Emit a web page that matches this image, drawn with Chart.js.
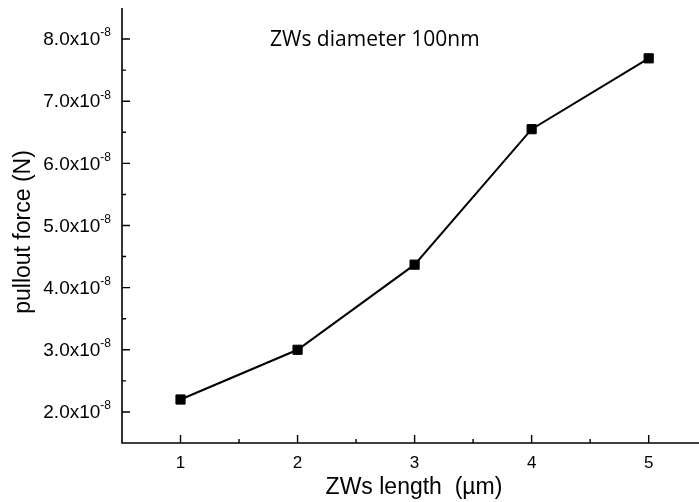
<!DOCTYPE html>
<html>
<head>
<meta charset="utf-8">
<script src="https://cdn.jsdelivr.net/npm/chart.js@4"></script>
<style>
  html, body { margin: 0; padding: 0; background: #fff; overflow: hidden; }
  canvas { display: block; }
</style>
</head>
<body>
<canvas id="grafico" width="699" height="502"></canvas>
<script>
// dados
const comprimentos = [1, 2, 3, 4, 5];
const forcas = [2.2e-8, 3.0e-8, 4.37e-8, 6.55e-8, 7.69e-8];
const xTicks = [1, 2, 3, 4, 5];
const yTicks = [2e-8, 3e-8, 4e-8, 5e-8, 6e-8, 7e-8, 8e-8];
const yMinor = [2.5e-8, 3.5e-8, 4.5e-8, 5.5e-8, 6.5e-8, 7.5e-8];
const xMinor = [1.5, 2.5, 3.5, 4.5];

const fonteEixo = '"Liberation Sans", Arial, sans-serif';

// eixos, ticks para dentro e rotulos com expoente
const eixosPlugin = {
  id: "eixos",
  afterDraw(chart) {
    const { ctx, chartArea: a, scales } = chart;
    const x = scales.x, y = scales.y;
    ctx.save();
    ctx.strokeStyle = "#000";
    ctx.fillStyle = "#000";
    ctx.lineWidth = 1.6;
    ctx.beginPath();
    ctx.moveTo(a.left, a.top);
    ctx.lineTo(a.left, a.bottom);
    ctx.lineTo(a.right, a.bottom);
    ctx.stroke();

    ctx.lineWidth = 1.4;
    ctx.beginPath();
    yTicks.forEach(v => { const p = y.getPixelForValue(v); ctx.moveTo(a.left, p); ctx.lineTo(a.left + 8, p); });
    yMinor.forEach(v => { const p = y.getPixelForValue(v); ctx.moveTo(a.left, p); ctx.lineTo(a.left + 4, p); });
    xTicks.forEach(v => { const p = x.getPixelForValue(v); ctx.moveTo(p, a.bottom); ctx.lineTo(p, a.bottom - 8); });
    xMinor.forEach(v => { const p = x.getPixelForValue(v); ctx.moveTo(p, a.bottom); ctx.lineTo(p, a.bottom - 4); });
    ctx.stroke();

    // rotulos do eixo y
    ctx.textBaseline = "middle";
    yTicks.forEach(v => {
      const p = y.getPixelForValue(v);
      const sup = "-8";
      ctx.font = "12px " + fonteEixo;
      const ws = ctx.measureText(sup).width;
      ctx.textAlign = "right";
      ctx.fillText(sup, a.left - 11, p - 6);
      ctx.font = "19px " + fonteEixo;
      ctx.fillText((v * 1e8).toFixed(1) + "x10", a.left - 11 - ws, p + 1);
    });

    // rotulos do eixo x
    ctx.textAlign = "center";
    ctx.font = "17px " + fonteEixo;
    xTicks.forEach(v => ctx.fillText(String(v), x.getPixelForValue(v), a.bottom + 20));

    // titulos
    ctx.font = "23px " + fonteEixo;
    ctx.fillText("ZWs length  (\u00b5m)", 414, 488);
    ctx.save();
    ctx.translate(24, 232);
    ctx.rotate(-Math.PI / 2);
    ctx.fillText("pullout force (N)", 0, 0);
    ctx.restore();

    ctx.font = '21px "Open Sans", "Noto Sans", sans-serif';
    ctx.textAlign = "left";
    ctx.fillText("ZWs diameter 100nm", 270, 40);
    ctx.restore();
  }
};

const ctx = document.getElementById("grafico").getContext("2d");
new Chart(ctx, {
  type: "line",
  data: {
    datasets: [{
      data: comprimentos.map((c, i) => ({ x: c, y: forcas[i] })),
      borderColor: "#000",
      borderWidth: 2,
      pointStyle: "rect",
      pointRadius: 6.5,
      pointBackgroundColor: "#000",
      pointBorderColor: "#000",
      pointBorderWidth: 1,
      tension: 0,
      clip: false
    }]
  },
  options: {
    responsive: false,
    animation: false,
    layout: { autoPadding: false, padding: { top: 8, right: 0, left: 0, bottom: 0 } },
    plugins: { legend: { display: false }, tooltip: { enabled: false } },
    scales: {
      x: {
        type: "linear",
        min: 0.5,
        max: 5.43,
        grid: { display: false },
        border: { display: false },
        ticks: { display: false },
        afterFit: s => { s.height = 59; }
      },
      y: {
        type: "linear",
        min: 1.5e-8,
        max: 8.5e-8,
        grid: { display: false },
        border: { display: false },
        ticks: { display: false },
        afterFit: s => { s.width = 122; }
      }
    }
  },
  plugins: [eixosPlugin]
});
</script>
</body>
</html>
